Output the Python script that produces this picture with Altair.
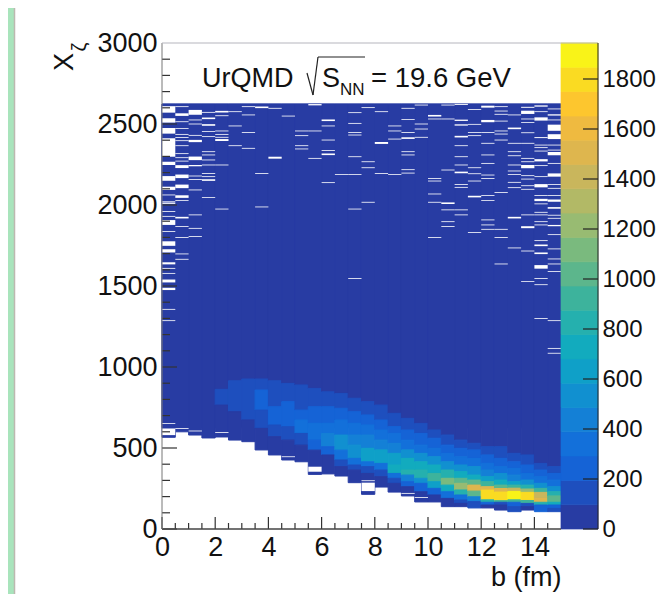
import altair as alt
import pandas as pd

FONT = "Liberation Sans"
B_LOW = [0, .5, 1, 1.5, 2, 2.5, 3, 3.5, 4, 4.5, 5, 5.5, 6, 6.5, 7, 7.5, 8, 8.5, 9, 9.5, 10, 10.5, 11, 11.5, 12, 12.5, 13, 13.5, 14, 14.5]
BIN_W = 0.5
PANEL_END = 15
BAR_END = 16.391
Y_MAX = 3000
Z_MAX = 1944
COLOR_EDGES = [97, 194, 292, 389, 486, 583, 680, 778, 875, 972, 1069, 1166, 1264, 1361, 1458, 1555, 1652, 1750, 1847]
BAR_LOW = [0] + COLOR_EDGES
BAR_HIGH = COLOR_EDGES + [Z_MAX]
PALETTE = ["#283CA3", "#1E4FBE", "#1563D6", "#1370DA", "#1480D6", "#1190D0", "#0FA0C8", "#12ABBE", "#25B0AE",
           "#3DB39C", "#5CB68C", "#7ABA7E", "#98BB72", "#B2B966", "#C9B65C", "#DEB64E", "#EFBA40", "#FDC62E",
           "#FADB22", "#F9F318"]

TOP = 2623
# Each column: where a colour band starts (top value) and its count, from the top downward
SEG_TOPS = [
    [TOP], [TOP], [TOP], [TOP],
    [TOP, 862, 765],
    [TOP, 915, 724],
    [TOP, 926, 673],
    [TOP, 926, 858, 734, 621],
    [TOP, 915, 755, 642, 570],
    [TOP, 899, 786, 631, 549],
    [TOP, 889, 734, 673, 590, 518],
    [TOP, 868, 755, 652, 549, 487],
    [TOP, 847, 755, 652, 590, 508, 457],
    [TOP, 837, 745, 673, 580, 487, 426, 385],
    [TOP, 807, 724, 652, 580, 518, 436, 395, 364],
    [TOP, 786, 704, 642, 580, 498, 415, 385, 343],
    [TOP, 765, 673, 611, 549, 488, 405, 364, 323],
    [TOP, 714, 632, 590, 529, 467, 395, 343, 313, 282],
    [TOP, 683, 611, 549, 488, 436, 364, 333, 292, 261],
    [TOP, 652, 590, 518, 467, 415, 364, 313, 282, 230],
    [TOP, 611, 560, 498, 446, 395, 343, 292, 251, 210],
    [TOP, 580, 518, 467, 415, 364, 313, 271, 230, 189],
    [TOP, 549, 498, 446, 395, 354, 313, 282, 241, 210, 179, 158],
    [TOP, 529, 488, 436, 385, 333, 302, 271, 234, 199, 169],
    [TOP, 508, 457, 405, 364, 323, 292, 261, 240, 180, 165, 148],
    [TOP, 508, 436, 385, 343, 302, 271, 250, 228, 175, 165, 148],
    [TOP, 467, 415, 374, 333, 292, 271, 252, 232, 180, 165, 138],
    [TOP, 457, 395, 343, 302, 271, 247, 226, 176, 158, 138],
    [TOP, 405, 364, 323, 282, 251, 226, 189, 165, 148],
    [TOP, 385, 343, 302, 261, 230, 204, 165, 148, 127],
]
SEG_COUNTS = [
    [50], [50], [50], [50],
    [50, 150, 50],
    [50, 150, 50],
    [50, 150, 50],
    [50, 150, 250, 150, 50],
    [50, 150, 250, 150, 50],
    [50, 150, 250, 150, 50],
    [50, 150, 250, 340, 150, 50],
    [50, 150, 250, 340, 250, 50],
    [50, 150, 250, 340, 440, 250, 50],
    [50, 150, 250, 340, 540, 340, 150, 50],
    [50, 150, 250, 340, 440, 540, 340, 150, 50],
    [50, 150, 250, 340, 440, 630, 340, 150, 50],
    [50, 150, 250, 340, 440, 630, 340, 150, 50],
    [50, 150, 250, 340, 440, 630, 730, 340, 150, 50],
    [50, 150, 250, 340, 540, 730, 830, 440, 250, 50],
    [50, 150, 250, 340, 540, 730, 830, 540, 250, 50],
    [50, 150, 250, 340, 540, 730, 920, 630, 250, 50],
    [50, 150, 250, 340, 540, 830, 1120, 730, 340, 50],
    [50, 150, 250, 340, 540, 730, 1020, 1220, 830, 340, 150, 50],
    [50, 150, 250, 340, 540, 730, 1020, 1510, 1020, 440, 150],
    [50, 150, 250, 340, 440, 630, 920, 1510, 1800, 830, 250, 50],
    [50, 150, 250, 340, 540, 730, 1020, 1510, 1800, 920, 150, 50],
    [50, 150, 250, 340, 440, 630, 920, 1410, 1900, 920, 250, 150],
    [50, 150, 250, 340, 540, 830, 1220, 1800, 920, 150, 50],
    [50, 150, 250, 340, 540, 920, 1410, 1510, 830, 250],
    [50, 150, 250, 340, 540, 830, 1020, 730, 250, 150],
]
EDGE = [566, 600, 580, 562, 568, 549, 539, 488, 457, 426, 415, 337, 340, 327, 286, 214, 259, 228, 204, 167, 167, 138, 138,
        130, 130, 117, 107, 117, 107, 107]

# Empty cells in the upper part of the histogram: thin single rows
THIN_GAPS = [
    [2062, 2020, 1960, 1930, 1836, 1609, 1578, 1356, 1286, 652],
    [2607, 2514, 2473, 2436, 2416, 2397, 2366, 2317, 2292, 2271, 2027, 1867, 1799, 1698, 1665, 621],
    [2525, 2500, 2430, 2179, 2158, 2093, 1939, 1856, 1805, 605],
    [2572, 2453, 2422, 2329, 2309, 2278, 2247, 2195, 2175, 2047],
    [2551, 2457, 2436, 2418, 2247, 1975, 596],
    [2576, 2488, 2366],
    [2607, 2556, 2448, 2350],
    [2195, 1988],
    [2597],
    [2549, 446],
    [2457, 2428, 2366, 2346],
    [2457, 2288],
    [2488, 2401, 2337, 2138],
    [2189],
    [2570, 2504, 2448, 2432, 2298, 2189, 1975, 1546],
    [2601, 2267, 2230, 2017, 298],
    [2576, 2195],
    [2488, 2457, 2407, 2189],
    [2597, 2527, 2448, 2329, 2309, 2218, 2197, 220],
    [2617, 2500, 2469, 2418, 195],
    [2531, 2164, 2148, 2068, 2017, 1799],
    [2617, 2531, 2216, 1970, 1897, 1867],
    [2366, 2298, 2247, 2127, 2109, 1970, 1939],
    [2590, 2498, 2448, 2428, 2230, 2193, 2148, 1830],
    [2448, 2381, 2309, 2257, 2185, 2164, 2058, 2027, 1908, 1877, 1850],
    [2607, 2580, 2560, 2518, 2457, 2438, 2401, 2077, 1850, 1799, 1636],
    [2556, 2381, 2329, 2304, 2247, 2210, 2189, 2140, 2107, 1735],
    [2531, 2510, 2446, 2381, 2288, 2267, 2181, 2160, 2119, 2097, 1939, 1716, 1527],
    [2576, 2370, 2354, 2333, 2243, 2175, 2058, 2007, 1955, 1939, 1897, 1877, 1780, 1546, 1508, 1299],
    [2593, 2525, 2370, 2339, 2257, 2127, 2103, 2058, 1937, 1918, 1817, 1729, 1667, 1636, 1589, 1286, 1115, 1085],
]
# Empty cells several rows tall: [centre, height]
WIDE_GAPS = [
    [[2590, 40], [2522, 27], [2458, 35], [2355, 114], [2257, 20], [2164, 29], [2103, 20], [2011, 8], [1892, 30],
     [1762, 28], [1717, 20], [1640, 13], [1531, 18], [1482, 14], [600, 41]],
    [[2558, 16], [2237, 18], [2177, 22], [2115, 22], [2052, 16], [1922, 10]],
    [[2572, 30], [2395, 14], [2288, 22], [2243, 8]],
    [[2535, 10], [2494, 10], [2154, 10]],
    [[2576, 10], [2401, 12]],
    [], [],
    [[2603, 10]],
    [[2292, 12]],
    [], [],
    [[2619, 8], [369, 31]],
    [[2523, 10], [2313, 10]],
    [], [],
    [[260, 52]],
    [[2383, 12]],
    [],
    [[2413, 10]],
    [],
    [[2551, 10]],
    [[2011, 10]],
    [[2621, 6], [2523, 8], [2494, 8], [2422, 10], [2201, 10]],
    [[2052, 10]],
    [[2607, 12], [2518, 14]],
    [],
    [[2473, 10], [1922, 10]],
    [[2603, 6], [2572, 20], [2237, 20], [1863, 12]],
    [[2611, 8], [2531, 20], [2416, 6], [2276, 14], [2119, 20], [2031, 14], [1751, 10], [1702, 10], [1618, 22]],
    [[2556, 8], [2477, 38], [2422, 30], [2317, 20], [2185, 20], [2027, 14], [1982, 10], [1873, 8]],
]
THIN_H = 5
# Region where every column holds at least the lowest band
FLOOR_LOW = 625

X_LABELS = [0, 2, 4, 6, 8, 10, 12, 14]
X_MINOR = [.5, 1, 1.5, 2.5, 3, 3.5, 4.5, 5, 5.5, 6.5, 7, 7.5, 8.5, 9, 9.5, 10.5, 11, 11.5, 12.5, 13, 13.5, 14.5]
Y_LABELS = [0, 500, 1000, 1500, 2000, 2500, 3000]
Y_MINOR = [v for v in range(100, 3000, 100) if v % 500]
Z_LABELS = [0, 200, 400, 600, 800, 1000, 1200, 1400, 1600, 1800]

cells = [{"b": 0, "b2": PANEL_END, "lo": FLOOR_LOW, "hi": TOP, "n": 50}]
for i, b in enumerate(B_LOW):
    tops = SEG_TOPS[i]
    bottoms = tops[1:] + [EDGE[i]]
    for t, lo, c in zip(tops, bottoms, SEG_COUNTS[i]):
        cells.append({"b": b, "b2": b + BIN_W, "lo": lo, "hi": t, "n": c})
gaps = []
for i, b in enumerate(B_LOW):
    for v in THIN_GAPS[i]:
        gaps.append({"b": b, "b2": b + BIN_W, "lo": v - THIN_H / 2, "hi": v + THIN_H / 2})
    for v, h in WIDE_GAPS[i]:
        gaps.append({"b": b, "b2": b + BIN_W, "lo": v - h / 2, "hi": v + h / 2})
bar = pd.DataFrame({"b": [PANEL_END] * 20, "b2": [BAR_END] * 20, "lo": BAR_LOW, "hi": BAR_HIGH,
                    "n": [(l + h) / 2 for l, h in zip(BAR_LOW, BAR_HIGH)]})

x_scale = alt.Scale(domain=[0, BAR_END], nice=False, zero=False)
y_scale = alt.Scale(domain=[0, Y_MAX], nice=False, zero=False)
z_scale = alt.Scale(domain=[0, Z_MAX], nice=False, zero=False)
col_scale = alt.Scale(type="threshold", domain=COLOR_EDGES, range=PALETTE)

label_style = dict(labelFont=FONT, labelFontSize=27, labelColor="#111111", ticks=False, domain=False, grid=False)
x_axis = alt.Axis(values=X_LABELS, format="d", labelPadding=5, labelOverlap=False, title="b (fm)", titleFont=FONT,
                  titleFontSize=27, titleFontWeight="normal", titleColor="#111111", titleX=399, titleY=56,
                  titleAlign="right", titleBaseline="alphabetic", labelFlush=False, **label_style)
y_axis = alt.Axis(values=Y_LABELS, format="d", labelPadding=5, labelOverlap=False, title=None, labelFlush=False,
                  **label_style)
z_style = dict(label_style, labelFontSize=24)
z_axis = alt.Axis(values=Z_LABELS, format="d", labelPadding=4, labelOverlap=False, title=None, orient="right",
                  labelFlush=False, **z_style)

colour = alt.Color("n:Q", scale=col_scale, legend=None)
stroke = alt.Stroke("n:Q", scale=col_scale, legend=None)

main = alt.Chart(pd.DataFrame(cells)).mark_rect(strokeWidth=1).encode(
    x=alt.X("b:Q", scale=x_scale, axis=x_axis), x2="b2:Q",
    y=alt.Y("lo:Q", scale=y_scale, axis=y_axis), y2="hi:Q", color=colour, stroke=stroke)
holes = alt.Chart(pd.DataFrame(gaps)).mark_rect(color="white", strokeWidth=0).encode(
    x=alt.X("b:Q", scale=x_scale, axis=None), x2="b2:Q",
    y=alt.Y("lo:Q", scale=y_scale, axis=None), y2="hi:Q")
palette_bar = alt.Chart(bar).mark_rect(strokeWidth=0.7).encode(
    x=alt.X("b:Q", scale=x_scale, axis=None), x2="b2:Q",
    y=alt.Y("lo:Q", scale=z_scale, axis=z_axis), y2="hi:Q", color=colour, stroke=stroke)


def hline_ticks(vals, scale, x0, x1, color="#333333", width=1.2):
    return alt.Chart(pd.DataFrame({"v": vals})).mark_rule(color=color, strokeWidth=width).encode(
        y=alt.Y("v:Q", scale=scale, axis=None), x=alt.value(x0), x2=alt.value(x1))


def vline_ticks(vals, length):
    return alt.Chart(pd.DataFrame({"v": vals})).mark_rule(color="#333333", strokeWidth=1.2).encode(
        x=alt.X("v:Q", scale=x_scale, axis=None), y=alt.value(486), y2=alt.value(486 - length))


def seg(x0, y0, x1, y1, color, width=1.2):
    return alt.Chart(pd.DataFrame({"k": [0]})).mark_rule(color=color, strokeWidth=width).encode(
        x=alt.value(x0), x2=alt.value(x1), y=alt.value(y0), y2=alt.value(y1))


def txt(s, x, y, size, angle=0, align="left", baseline="alphabetic"):
    return alt.Chart(pd.DataFrame({"t": [s]})).mark_text(
        font=FONT, fontSize=size, align=align, baseline=baseline, angle=angle, color="#111111").encode(
        x=alt.value(x), y=alt.value(y), text="t:N")


strip = alt.Chart(pd.DataFrame({"k": [0]})).mark_rect(color="#A9E4BC", strokeWidth=0).encode(
    x=alt.value(-154), x2=alt.value(-148), y=alt.value(-35), y2=alt.value(563))

chart = alt.layer(
    main, holes, palette_bar, strip,
    seg(-147.5, -35, -147.5, 563, "#BDB8B0", 1.5),
    hline_ticks(Y_LABELS[:-1], y_scale, 0, 15),
    hline_ticks(Y_MINOR, y_scale, 0, 8),
    vline_ticks(X_LABELS, 12),
    vline_ticks(X_MINOR, 6),
    hline_ticks(Z_LABELS, z_scale, 421, 436, "#222222"),
    seg(0, 486, 399, 486, "#444444", 1.5),
    seg(0, 0, 0, 486, "#777777", 1),
    seg(0, 0, 436, 0, "#B5B5BD", 1),
    seg(436, 0, 436, 486, "#222222", 1),
    txt("UrQMD", 40, 44, 27),
    seg(145, 30, 151, 52, "#222222"),
    seg(151, 52, 156, 14, "#222222"),
    seg(156, 14, 203, 14, "#222222"),
    txt("S", 160, 44, 27),
    txt("NN", 178, 52, 17),
    txt("= 19.6 GeV", 209, 44, 27.5),
    txt("X", -97, 19, 27, angle=270, align="center", baseline="middle"),
    txt("ζ", -82, 4, 20, angle=270, align="center", baseline="middle"),
).resolve_scale(x="independent", y="independent").properties(
    width=436, height=486,
    autosize=alt.AutoSizeParams(type="none"),
    padding={"left": 154, "top": 35, "right": 58, "bottom": 65},
    background="white",
).configure_view(stroke=None)

chart.save("out.html", embed_options={"renderer": "svg", "actions": False})
